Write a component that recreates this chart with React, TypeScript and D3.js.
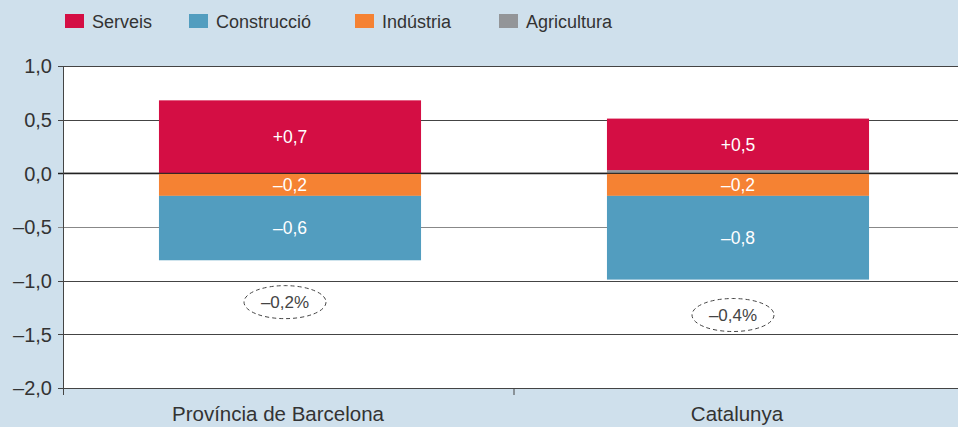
import React, { useEffect, useRef } from "react";
import * as d3 from "d3";

const categories = ["Província de Barcelona", "Catalunya"];
const serveis = [0.68, 0.48];
const construccio = [-0.6, -0.78];
const industria = [-0.21, -0.21];
const agricultura = [0, 0.03];
const totals = [-0.2, -0.4];
const totalLabelY = [-1.2, -1.32];
const yTicks = [1, 0.5, 0, -0.5, -1, -1.5, -2];

const legendItems = [
  { key: "serveis", label: "Serveis", color: "#d40e44" },
  { key: "construccio", label: "Construcció", color: "#529dbf" },
  { key: "industria", label: "Indústria", color: "#f58233" },
  { key: "agricultura", label: "Agricultura", color: "#939598" },
];

const W = 958;
const H = 427;
const FONT = "'Liberation Sans', Arial, sans-serif";
const catLabelShift = [-12, -1];

const fmt = (v: number, sign = true) => {
  const s = Math.abs(v).toFixed(1).replace(".", ",");
  if (v < 0) return "–" + s;
  return (sign && v > 0 ? "+" : "") + s;
};

const App = () => {
  const svgRef = useRef<SVGSVGElement>(null);

  useEffect(() => {
    const svg = d3.select(svgRef.current);
    svg.selectAll("*").remove();

    const rows = categories.map((c, i) => ({
      cat: c,
      serveis: serveis[i],
      construccio: construccio[i],
      industria: industria[i],
      agricultura: agricultura[i],
    }));

    // order so that agricultura / indústria sit next to zero
    const stack = d3
      .stack<any>()
      .keys(["agricultura", "industria", "serveis", "construccio"])
      .offset(d3.stackOffsetDiverging);
    const series = stack(rows);

    const left = 63;
    const x = d3.scaleBand().domain(categories).range([66, 962]).paddingInner(0.415).paddingOuter(0.2075);
    const y = d3.scaleLinear().domain([-2, 1]).range([388, 66]);
    const color = d3
      .scaleOrdinal<string>()
      .domain(legendItems.map((d) => d.key))
      .range(legendItems.map((d) => d.color));

    svg.append("rect").attr("width", W).attr("height", H).attr("fill", "#cfe0ec");
    svg
      .append("rect")
      .attr("x", left)
      .attr("y", y(1))
      .attr("width", W - left)
      .attr("height", y(-2) - y(1))
      .attr("fill", "#fff");

    // gridlines
    svg
      .append("g")
      .selectAll("line")
      .data(yTicks)
      .enter()
      .append("line")
      .attr("x1", left - 5)
      .attr("x2", W)
      .attr("y1", (d) => Math.round(y(d)) + 0.5)
      .attr("y2", (d) => Math.round(y(d)) + 0.5)
      .attr("stroke", (d) => (d === 0 ? "#222" : d === -0.5 ? "#888" : "#444"))
      .attr("stroke-width", (d) => (d === 0 ? 1.6 : 1));

    // bars
    const groups = svg
      .append("g")
      .selectAll("g")
      .data(series)
      .enter()
      .append("g")
      .attr("fill", (s) => color(s.key));
    groups
      .selectAll("rect")
      .data((s) => s)
      .enter()
      .append("rect")
      .attr("x", (d: any) => x(d.data.cat)!)
      .attr("width", x.bandwidth())
      .attr("y", (d) => y(Math.max(d[0], d[1])))
      .attr("height", (d) => Math.abs(y(d[0]) - y(d[1])));

    // re-draw zero line over bars
    svg
      .append("line")
      .attr("x1", left)
      .attr("x2", W)
      .attr("y1", y(0))
      .attr("y2", y(0))
      .attr("stroke", "#222")
      .attr("stroke-width", 1.2)
      .attr("opacity", 0.85);

    // segment labels
    series.forEach((s) => {
      if (s.key === "agricultura") return;
      s.forEach((d: any) => {
        const v = d.data[s.key];
        if (Math.abs(v) < 0.1) return;
        svg
          .append("text")
          .attr("x", x(d.data.cat)! + x.bandwidth() / 2)
          .attr("y", (y(d[0]) + y(d[1])) / 2)
          .attr("dy", "0.36em")
          .attr("text-anchor", "middle")
          .attr("fill", "#fff")
          .style("font", `17.5px ${FONT}`)
          .text(fmt(v));
      });
    });

    // total annotations
    categories.forEach((c, i) => {
      const cx = x(c)! + x.bandwidth() / 2 - 5;
      const cy = y(totalLabelY[i]);
      svg
        .append("ellipse")
        .attr("cx", cx)
        .attr("cy", cy)
        .attr("rx", 41)
        .attr("ry", 16.5)
        .attr("fill", "none")
        .attr("stroke", "#444")
        .attr("stroke-width", 1)
        .attr("stroke-dasharray", "4,3");
      svg
        .append("text")
        .attr("x", cx)
        .attr("y", cy)
        .attr("dy", "0.36em")
        .attr("text-anchor", "middle")
        .attr("fill", "#444")
        .style("font", `17px ${FONT}`)
        .text(fmt(totals[i]) + "%");
    });

    // y axis
    svg
      .append("line")
      .attr("x1", left + 0.5)
      .attr("x2", left + 0.5)
      .attr("y1", y(1))
      .attr("y2", y(-2) + 7)
      .attr("stroke", "#444");
    svg
      .append("g")
      .selectAll("text")
      .data(yTicks)
      .enter()
      .append("text")
      .attr("x", 52)
      .attr("y", (d) => y(d))
      .attr("dy", "0.36em")
      .attr("text-anchor", "end")
      .attr("fill", "#333")
      .style("font", `20px ${FONT}`)
      .text((d) => fmt(d, false));

    // x axis: divider tick + labels
    const mid = (x(categories[0])! + x.bandwidth() + x(categories[1])!) / 2;
    svg
      .append("line")
      .attr("x1", mid)
      .attr("x2", mid)
      .attr("y1", y(-2))
      .attr("y2", y(-2) + 7)
      .attr("stroke", "#444");
    svg
      .append("g")
      .selectAll("text")
      .data(categories)
      .enter()
      .append("text")
      .attr("x", (d, i) => x(d)! + x.bandwidth() / 2 + catLabelShift[i])
      .attr("y", 421)
      .attr("text-anchor", "middle")
      .attr("fill", "#333")
      .style("font", `20.5px ${FONT}`)
      .text((d) => d);

    // legend
    const legendX = [65, 189, 355, 499];
    const lg = svg
      .append("g")
      .selectAll("g")
      .data(legendItems)
      .enter()
      .append("g")
      .attr("transform", (d, i) => `translate(${legendX[i]},0)`);
    lg.append("rect")
      .attr("y", 14)
      .attr("width", 19)
      .attr("height", 14)
      .attr("fill", (d) => d.color);
    lg.append("text")
      .attr("x", 27)
      .attr("y", 27.5)
      .attr("fill", "#333")
      .style("font", `18px ${FONT}`)
      .text((d) => d.label);
  }, []);

  return (
    <svg
      ref={svgRef}
      width={W}
      height={H}
      style={{ position: "absolute", left: 0, top: 0, display: "block" }}
    />
  );
};

export default App;
